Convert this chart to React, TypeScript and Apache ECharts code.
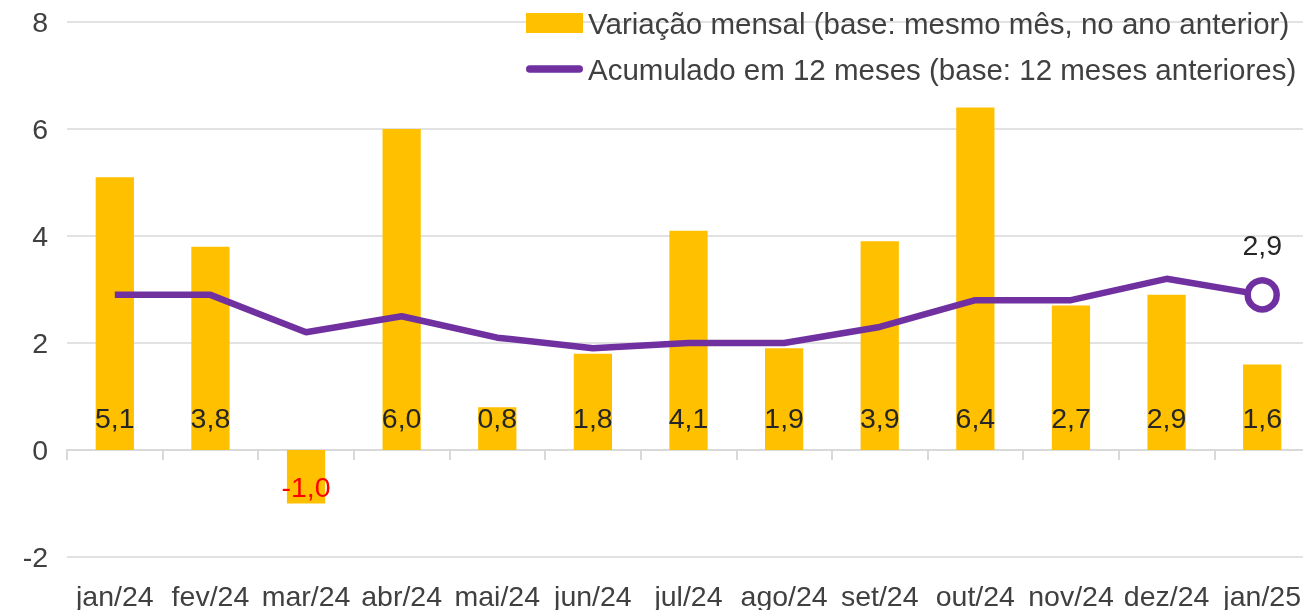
import React, { useEffect, useRef } from "react";
import * as echarts from "echarts";

const categories = ["jan/24", "fev/24", "mar/24", "abr/24", "mai/24", "jun/24", "jul/24", "ago/24", "set/24", "out/24", "nov/24", "dez/24", "jan/25"];
const monthly = [5.1, 3.8, -1.0, 6.0, 0.8, 1.8, 4.1, 1.9, 3.9, 6.4, 2.7, 2.9, 1.6];
const accumulated = [2.9, 2.9, 2.2, 2.5, 2.1, 1.9, 2.0, 2.0, 2.3, 2.8, 2.8, 3.2, 2.9];
const yTicks = [-2, 0, 2, 4, 6, 8];
const seriesNames = ["Variação mensal (base: mesmo mês, no ano anterior)", "Acumulado em 12 meses (base: 12 meses anteriores)"];

const FONT = "'Liberation Sans', Arial, sans-serif";
const TXT = "#404040";

export default function App() {
  const ref = useRef<HTMLDivElement>(null);
  useEffect(() => {
    if (!ref.current) return;
    const chart = echarts.init(ref.current, undefined, { renderer: "svg" });
    const fmt = (v: number) => v.toFixed(1).replace(".", ",");
    const lastIdx = accumulated.length - 1;
    chart.setOption({
      animation: false,
      textStyle: { fontFamily: FONT },
      grid: { left: 67, right: 0, top: 22, bottom: 51, containLabel: false },
      legend: {
        orient: "vertical",
        left: 521,
        top: 3,
        itemWidth: 57,
        itemHeight: 20,
        itemGap: 16,
        textStyle: { fontFamily: FONT, fontSize: 29.5, color: TXT },
        data: [
          { name: seriesNames[0], icon: "rect", itemStyle: { color: "#FFC000" } },
          { name: seriesNames[1], icon: "path://M4,0 L56,0 A4,4 0 0 1 56,8 L4,8 A4,4 0 0 1 4,0 Z", itemStyle: { color: "#7030A0" } },
        ],
      },
      xAxis: [
        {
          type: "category",
          data: categories,
          position: "bottom",
          axisLine: { show: false, onZero: false },
          axisTick: { show: false },
          axisLabel: { fontFamily: FONT, fontSize: 28.5, color: TXT, margin: 24, interval: 0 },
          splitLine: { show: false },
        },
        {
          type: "category",
          data: categories,
          position: "bottom",
          axisLine: { show: true, onZero: true, lineStyle: { color: "#d9d9d9", width: 2 } },
          axisTick: { show: true, length: 10, lineStyle: { color: "#d9d9d9", width: 2 } },
          axisLabel: { show: false },
        },
      ],
      yAxis: {
        type: "value",
        min: yTicks[0],
        max: yTicks[yTicks.length - 1],
        interval: 2,
        axisLine: { show: false },
        axisTick: { show: false },
        axisLabel: { fontFamily: FONT, fontSize: 28.5, color: TXT, margin: 19 },
        splitLine: { lineStyle: { color: "#d9d9d9", width: 1.5 } },
      },
      series: [
        {
          name: seriesNames[0],
          type: "bar",
          xAxisIndex: 0,
          barWidth: "40%",
          itemStyle: { color: "#FFC000" },
          label: {
            show: true,
            position: "insideBottom",
            distance: 18,
            fontFamily: FONT,
            fontSize: 28.5,
            color: "#262626",
            formatter: (p: any) => fmt(p.value),
          },
          data: monthly.map((v) =>
            v < 0
              ? { value: v, label: { color: "#FF0000", distance: 2 } }
              : { value: v }
          ),
          z: 2,
        },
        {
          name: seriesNames[1],
          type: "line",
          xAxisIndex: 0,
          lineStyle: { color: "#7030A0", width: 6.5 },
          itemStyle: { color: "#7030A0" },
          symbol: "none",
          data: accumulated.map((v, i) =>
            i === lastIdx
              ? {
                  value: v,
                  symbol: "circle",
                  symbolSize: 29,
                  itemStyle: { color: "#ffffff", borderColor: "#7030A0", borderWidth: 6.5 },
                  label: {
                    show: true,
                    position: "top",
                    distance: 18,
                    fontFamily: FONT,
                    fontSize: 28.5,
                    color: "#262626",
                    formatter: (p: any) => fmt(p.value),
                  },
                }
              : { value: v }
          ),
          z: 3,
        },
      ],
    });
    return () => chart.dispose();
  }, []);
  return <div ref={ref} style={{ position: "fixed", left: 0, top: 0, width: 1310, height: 610 }} />;
}
